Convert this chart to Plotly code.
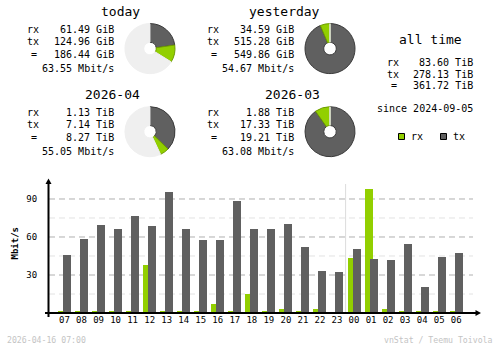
import plotly.graph_objects as go

W, H = 500, 348

# ---- data ----
hours = ['07', '08', '09', '10', '11', '12', '13', '14', '15', '16', '17', '18',
         '19', '20', '21', '22', '23', '00', '01', '02', '03', '04', '05', '06']
rx_mbit = [0.8, 1.6, 1.6, 1.6, 1.6, 37.9, 1.6, 1.6, 0.8, 7.1, 1.6, 15.0,
           0.8, 3.2, 0.8, 3.2, 0.0, 43.4, 97.9, 3.2, 0.8, 1.6, 0.8, 0.8]
tx_mbit = [45.8, 58.4, 69.5, 66.3, 76.6, 68.7, 95.5, 66.3, 57.6, 57.6, 88.4, 66.3,
           66.3, 70.3, 52.1, 33.2, 32.4, 50.5, 42.6, 41.8, 54.5, 20.5, 44.2, 47.4]
y_ticks = [30, 60, 90]

periods = ['today', 'yesterday', '2026-04', '2026-03']
period_rx = [61.49, 34.59, 1.13, 1.88]
period_tx = [124.96, 515.28, 7.14, 17.33]
period_total = [186.44, 549.86, 8.27, 19.21]
period_unit = ['GiB', 'GiB', 'TiB', 'TiB']
period_rate = ['63.55 Mbit/s', '54.67 Mbit/s', '55.05 Mbit/s', '63.08 Mbit/s']
# previous period used as the reference for the partial donuts
period_ref = [549.86, 549.86, 19.21, 19.21]

alltime_rx = '83.60 TiB'
alltime_tx = '278.13 TiB'
alltime_total = '361.72 TiB'
since_text = 'since 2024-09-05'
footer_left = '2026-04-16 07:00'
footer_right = 'vnStat / Teemu Toivola'

RX = '#92CF00'
TX = '#606060'
RX_D = '#6E9C00'
TX_D = '#3A3A3A'
REST = '#EFEFEF'
MONO = 'DejaVu Sans Mono'


def px(x):
    return x / W


def py(y):
    return 1 - y / H


fig = go.Figure()

# ---- bars ----
bw = 8 / 17.03
fig.add_trace(go.Bar(x=hours, y=rx_mbit, marker=dict(color=RX, line=dict(width=0)),
                     width=bw, offset=-6.5 / 17.03, showlegend=False, hoverinfo='skip'))
fig.add_trace(go.Bar(x=hours, y=tx_mbit, marker=dict(color=TX, line=dict(width=0)),
                     width=bw, offset=-1.5 / 17.03, showlegend=False, hoverinfo='skip'))

# ---- donuts ----
centers = [(150, 48.6), (330, 48.6), (150, 131.7), (330, 131.7)]
R = 25
for i, (cx, cy) in enumerate(centers):
    rest = max(period_ref[i] - period_total[i], 0)
    fig.add_trace(go.Pie(
        values=[period_tx[i], period_rx[i], rest],
        sort=False, direction='clockwise', rotation=0, hole=0.25,
        marker=dict(colors=[TX, RX, REST], line=dict(color=[TX_D, RX_D, REST], width=1)),
        textinfo='none', hoverinfo='skip', showlegend=False,
        domain=dict(x=[px(cx - R), px(cx + R)], y=[py(cy + R), py(cy - R)]),
    ))

shapes = []
# gridlines
x0g, x1g = px(49), px(473)
for v in [15, 45, 75]:
    shapes.append(dict(type='line', xref='paper', yref='y', x0=x0g, x1=x1g, y0=v, y1=v,
                       line=dict(color='#E2E2E2', width=1, dash='6px,4px'), layer='below'))
for v in y_ticks:
    shapes.append(dict(type='line', xref='paper', yref='y', x0=x0g, x1=x1g, y0=v, y1=v,
                       line=dict(color='#B0B0B0', width=1, dash='6px,4px'), layer='below'))
# day separator
shapes.append(dict(type='line', xref='paper', yref='paper', x0=px(345.6), x1=px(345.6),
                   y0=py(313), y1=py(184), line=dict(color='#DCDCDC', width=1), layer='below'))
# axes
shapes.append(dict(type='line', xref='paper', yref='paper', x0=px(48.5), x1=px(48.5),
                   y0=py(317), y1=py(182), line=dict(color='black', width=2)))
shapes.append(dict(type='line', xref='paper', yref='paper', x0=px(45), x1=px(477),
                   y0=py(313), y1=py(313), line=dict(color='black', width=2)))
shapes.append(dict(type='path', xref='paper', yref='paper',
                   path=f'M {px(48.5)} {py(178.5)} L {px(45.5)} {py(184)} L {px(51.5)} {py(184)} Z',
                   fillcolor='black', line=dict(width=0)))
shapes.append(dict(type='path', xref='paper', yref='paper',
                   path=f'M {px(481)} {py(313)} L {px(475.5)} {py(310)} L {px(475.5)} {py(316)} Z',
                   fillcolor='black', line=dict(width=0)))
# legend squares
for (x0, col, dcol) in [(398.5, RX, RX_D), (440.5, TX, TX_D)]:
    shapes.append(dict(type='rect', xref='paper', yref='paper', x0=px(x0), x1=px(x0 + 6),
                       y0=py(139.5), y1=py(133.5), fillcolor=col, line=dict(color='black', width=1)))

ann = []


def text(x, y, s, size=10, anchor='left', color='black', bold=False, angle=0):
    if bold:
        s = '<b>' + s + '</b>'
    ann.append(dict(x=px(x), y=py(y), xref='paper', yref='paper', text=s, showarrow=False,
                    xanchor=anchor, yanchor='middle', textangle=angle,
                    font=dict(family=MONO, size=size, color=color)))


offs = [(0, 0), (180, 0), (0, 83), (180, 83)]
for i, (dx, dy) in enumerate(offs):
    text(142 + dx, 12 + dy, periods[i], size=13, anchor='right')
    text(25.3 + dx, 29.5 + dy, 'rx')
    text(25.3 + dx, 41.8 + dy, 'tx')
    text(34.3 + dx, 54.2 + dy, '=', anchor='center')
    text(115.5 + dx, 29.5 + dy, f'{period_rx[i]:.2f} {period_unit[i]}', anchor='right')
    text(115.5 + dx, 41.8 + dy, f'{period_tx[i]:.2f} {period_unit[i]}', anchor='right')
    text(115.5 + dx, 54.2 + dy, f'{period_total[i]:.2f} {period_unit[i]}', anchor='right')
    text(115.5 + dx, 68.3 + dy, period_rate[i], anchor='right')

text(430, 39.5, 'all time', size=13, anchor='center')
text(385, 62.5, 'rx')
text(385, 74, 'tx')
text(394, 86, '=', anchor='center')
text(474.5, 62.5, alltime_rx, anchor='right')
text(474.5, 74, alltime_tx, anchor='right')
text(474.5, 86, alltime_total, anchor='right')
text(474.5, 108.5, since_text, anchor='right')
text(409, 136.5, 'rx')
text(451, 136.5, 'tx')

text(14.5, 243, 'Mbit/s', size=9, anchor='center', bold=True, angle=-90)
text(5, 340, footer_left, size=8.2, color='#C4C4C4')
text(495, 340, footer_right, size=8.2, anchor='right', color='#C4C4C4')

fig.update_layout(
    width=W, height=H, margin=dict(l=0, r=0, t=0, b=0),
    paper_bgcolor='white', plot_bgcolor='rgba(0,0,0,0)',
    barmode='overlay', bargap=0,
    xaxis=dict(domain=[px(49), px(478)], range=[-0.91, 24.28], type='category',
               showgrid=False, zeroline=False, showline=False,
               ticks='', ticklen=0,
               tickfont=dict(family=MONO, size=9, color='black')),
    yaxis=dict(domain=[py(313), py(181)], range=[0, 104.2],
               tickvals=y_ticks, showgrid=False, zeroline=False, showline=False,
               ticks='outside', ticklen=9, tickcolor='rgba(0,0,0,0)',
               tickfont=dict(family=MONO, size=9, color='black')),
    shapes=shapes, annotations=ann,
)

fig.write_html('out.html')
